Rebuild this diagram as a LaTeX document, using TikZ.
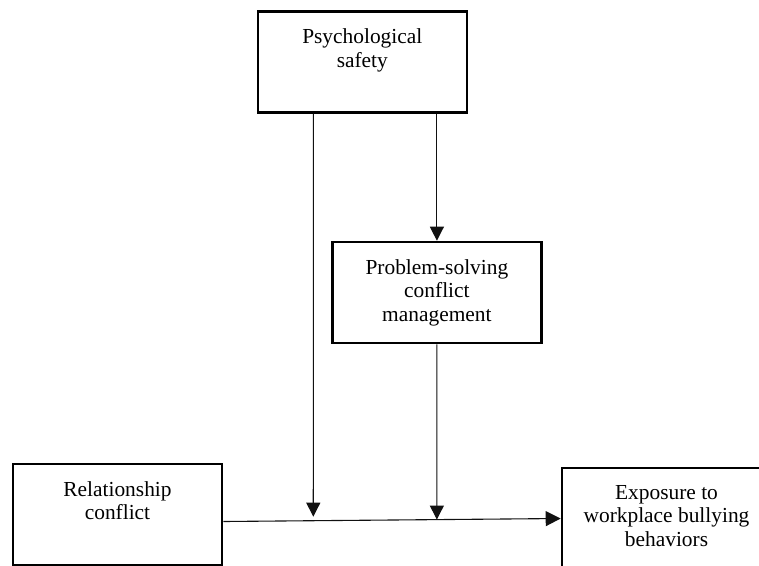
\documentclass[tikz,border=0pt]{standalone}
\usepackage{fontspec}
\setmainfont{Liberation Serif}
\usetikzlibrary{arrows.meta,positioning,calc}
\definecolor{PSInk}{HTML}{000000}
\definecolor{PSLine}{HTML}{111111}
\tikzset{
  flow/.style={-{Triangle[length=14pt,width=14pt]},PSLine,line width=1.1pt},
  flowmain/.style={flow,-{Triangle[length=15pt,width=15pt]}},
  box/.style={draw=PSInk,line width=2.6pt,minimum width=209pt,minimum height=101pt,
              anchor=north,inner sep=0pt},
  boxtext/.style={text=PSInk,font=\fontsize{21.4}{23.7}\selectfont,align=center,
                  inner sep=0pt},
}
\begin{document}
\begin{tikzpicture}[x=1pt,y=-1pt]
    \useasboundingbox (0,0) rectangle (759,565);

    \node[box] (psych) at (362.3,10) {};
    \node[box] (ps) at (436.9,240.7) {};
    \node[box] (rel) at (117.5,462.7) {};
    \node[box] (exp) at (666.5,466.7) {};

    \node[boxtext,below=18.3pt of psych.north] (psychtxt) {Psychological\\safety};
    \node[boxtext,below=18.3pt of ps.north] (pstxt) {Problem-solving\\conflict\\management};
    \node[boxtext,below=18.3pt of rel.north] (reltxt) {Relationship\\conflict};
    \node[boxtext,below=18.3pt of exp.north] (exptxt) {Exposure to\\workplace bullying\\behaviors};

    % main path and the two moderating arrows
    \coordinate (lstart) at ([yshift=-7pt]rel.east);
    \coordinate (ltop) at ([xshift=-49pt]psych.south);
    \coordinate (lbot) at (ltop |- lstart);
    \coordinate (pbot) at (ps.south |- lstart);
    \coordinate (j1) at (intersection of ltop--lbot and lstart--exp.west);
    \coordinate (j2) at (intersection of ps.south--pbot and lstart--exp.west);

    \draw[flowmain] (lstart) -- (exp.west);
    \draw[flow,shorten >=4pt] (ltop) -- (j1);
    \draw[flow] (ps.north |- psych.south) -- (ps.north);
    \draw[flow] (ps.south) -- (j2);
  \end{tikzpicture}
\end{document}
